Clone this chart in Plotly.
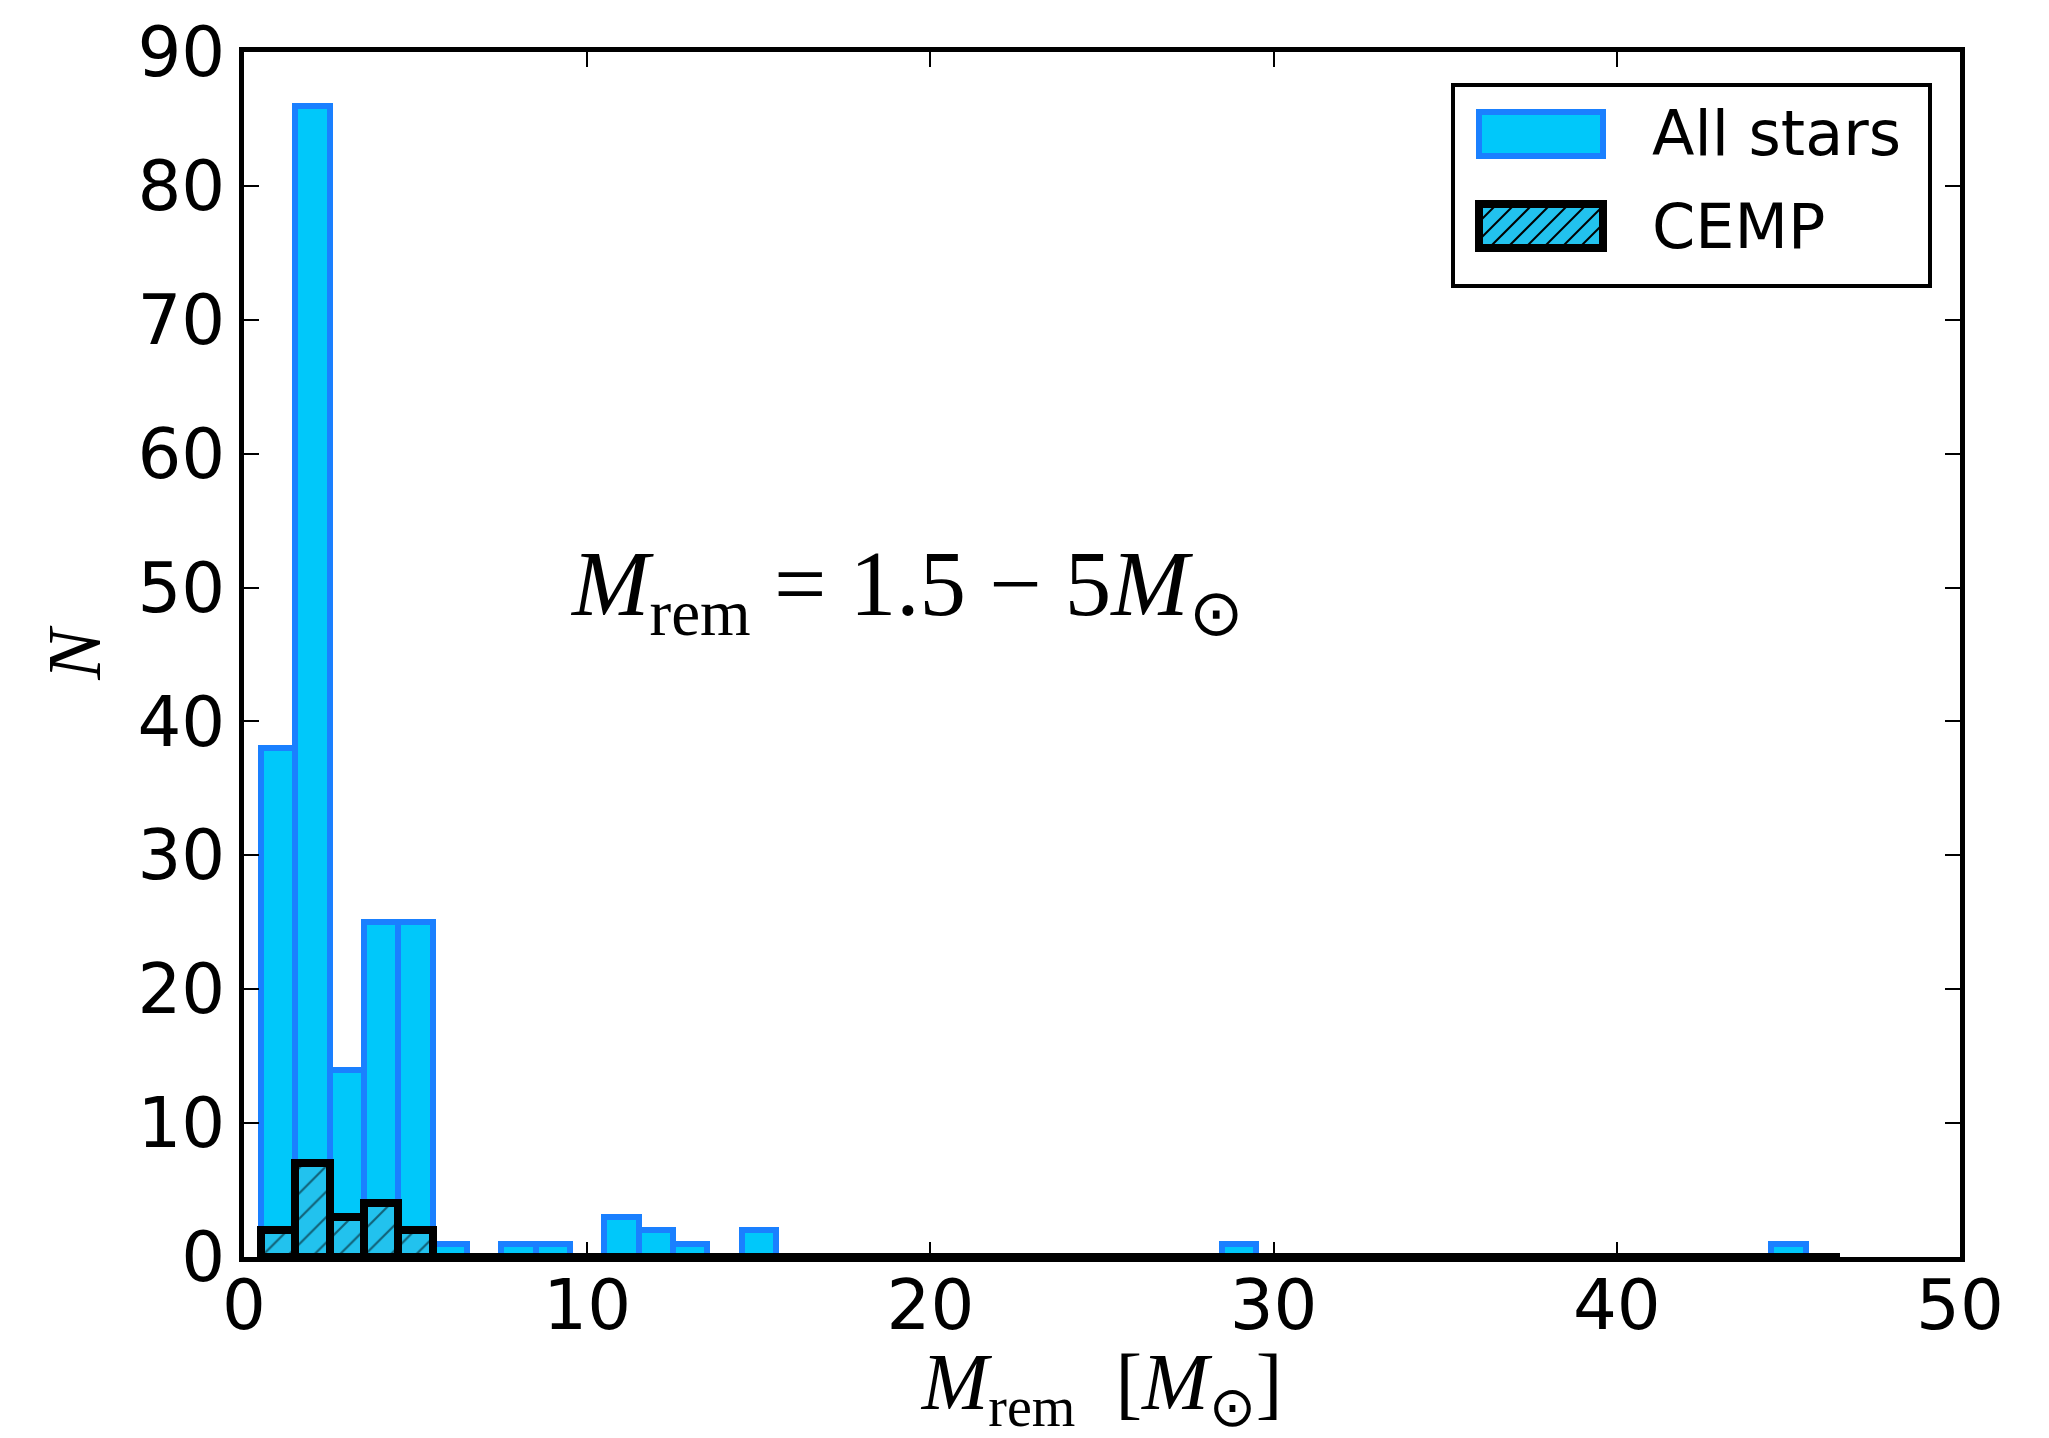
import plotly.graph_objects as go

# ---------------- data ----------------
bin_centers = [1, 2, 3, 4, 5, 6, 7, 8, 9, 10, 11, 12, 13, 14, 15, 16, 17, 18, 19, 20,
               21, 22, 23, 24, 25, 26, 27, 28, 29, 30, 31, 32, 33, 34, 35, 36, 37, 38,
               39, 40, 41, 42, 43, 44, 45, 46]
all_counts = [38, 86, 14, 25, 25, 1, 0, 1, 1, 0, 3, 2, 1, 0, 2, 0, 0, 0, 0, 0,
              0, 0, 0, 0, 0, 0, 0, 0, 1, 0, 0, 0, 0, 0, 0, 0, 0, 0,
              0, 0, 0, 0, 0, 0, 1, 0]
cemp_counts = [2, 7, 3, 4, 2, 0, 0, 0, 0, 0, 0, 0, 0, 0, 0, 0, 0, 0, 0, 0,
               0, 0, 0, 0, 0, 0, 0, 0, 0, 0, 0, 0, 0, 0, 0, 0, 0, 0,
               0, 0, 0, 0, 0, 0, 0, 0]
series_names = ["All stars", "CEMP"]
x_ticks = [0, 10, 20, 30, 40, 50]
y_ticks = [0, 10, 20, 30, 40, 50, 60, 70, 80, 90]

# ---------------- style ----------------
W, H = 2049, 1438
L, R, T, B = 244, 1960, 52, 1257   # plot area in pixels
FILL = "#00c8fa"
EDGE = "#1a80ff"
CEMP_FILL = "#22c2ee"
TICK_FONT = dict(family="DejaVu Sans", size=69, color="black")

fig = go.Figure()
fig.add_trace(go.Bar(
    x=bin_centers, y=all_counts, width=1.0, name=series_names[0],
    marker=dict(color=FILL, line=dict(color=EDGE, width=6)),
    cliponaxis=False, showlegend=False,
))
fig.add_trace(go.Bar(
    x=bin_centers, y=cemp_counts, width=1.0, name=series_names[1],
    marker=dict(color=CEMP_FILL, line=dict(color="black", width=8),
                pattern=dict(shape="/", fgcolor="black", size=18, solidity=0.12)),
    cliponaxis=False, showlegend=False,
))

axis_common = dict(
    showline=True, linecolor="black", linewidth=5, mirror="allticks",
    ticks="inside", ticklen=15, tickwidth=2, tickcolor="black",
    showgrid=False, zeroline=False, tickfont=TICK_FONT,
)
fig.update_xaxes(range=[0, 50], tickvals=x_ticks, ticklabelstandoff=-16,
                 title=dict(text="<i>M</i><sub>rem</sub>  [<i>M</i><sub>⊙</sub>]",
                            font=dict(family="Liberation Serif", size=80, color="black"),
                            standoff=22),
                 **axis_common)
fig.update_yaxes(range=[0, 90], tickvals=y_ticks, ticklabelstandoff=0,
                 title=dict(text="<i>N</i>",
                            font=dict(family="Liberation Serif", size=76, color="black"),
                            standoff=13),
                 **axis_common)

# annotation in data coordinates
fig.add_annotation(x=19.3, y=49.8, xref="x", yref="y", showarrow=False,
                   text="<i>M</i><sub>rem</sub> = 1.5 − 5<i>M</i><sub>⊙</sub>",
                   font=dict(family="Liberation Serif", size=93, color="black"),
                   xanchor="center", yanchor="middle")

# ---------------- manual legend (paper coords) ----------------
def px(xp):
    return (xp - L) / (R - L)

def py(yp):
    return (B - yp) / (B - T)

shapes = []
# legend frame
shapes.append(dict(type="rect", xref="paper", yref="paper",
                   x0=px(1453), x1=px(1930), y0=py(286), y1=py(85),
                   line=dict(color="black", width=4), fillcolor="white"))
# All stars patch
shapes.append(dict(type="rect", xref="paper", yref="paper",
                   x0=px(1479), x1=px(1603), y0=py(156), y1=py(112),
                   line=dict(color=EDGE, width=6), fillcolor=FILL))
# CEMP patch
p_x0, p_x1, p_y0, p_y1 = 1479, 1603, 204, 248
shapes.append(dict(type="rect", xref="paper", yref="paper",
                   x0=px(p_x0), x1=px(p_x1), y0=py(p_y1), y1=py(p_y0),
                   line=dict(width=0), fillcolor=CEMP_FILL))
hgt = p_y1 - p_y0
a = p_x0 - hgt
while a < p_x1:
    us, ue = max(a, p_x0), min(a + hgt, p_x1)
    if us < ue:
        shapes.append(dict(type="line", xref="paper", yref="paper",
                           x0=px(us), y0=py(p_y1 - (us - a)),
                           x1=px(ue), y1=py(p_y1 - (ue - a)),
                           line=dict(color="black", width=2)))
    a += 18
shapes.append(dict(type="rect", xref="paper", yref="paper",
                   x0=px(p_x0), x1=px(p_x1), y0=py(p_y1), y1=py(p_y0),
                   line=dict(color="black", width=8), fillcolor="rgba(0,0,0,0)"))
fig.update_layout(shapes=shapes)

fig.add_annotation(x=px(1650), y=py(134), xref="paper", yref="paper", showarrow=False,
                   text=series_names[0], font=dict(family="DejaVu Sans", size=62, color="black"),
                   xanchor="left", yanchor="middle")
fig.add_annotation(x=px(1650), y=py(226), xref="paper", yref="paper", showarrow=False,
                   text=series_names[1], font=dict(family="DejaVu Sans", size=62, color="black"),
                   xanchor="left", yanchor="middle")

fig.update_layout(
    width=W, height=H, barmode="overlay", bargap=0,
    margin=dict(l=L, r=W - R, t=T, b=H - B, autoexpand=False),
    plot_bgcolor="white", paper_bgcolor="white",
    showlegend=False,
)

fig.write_html("out.html")
